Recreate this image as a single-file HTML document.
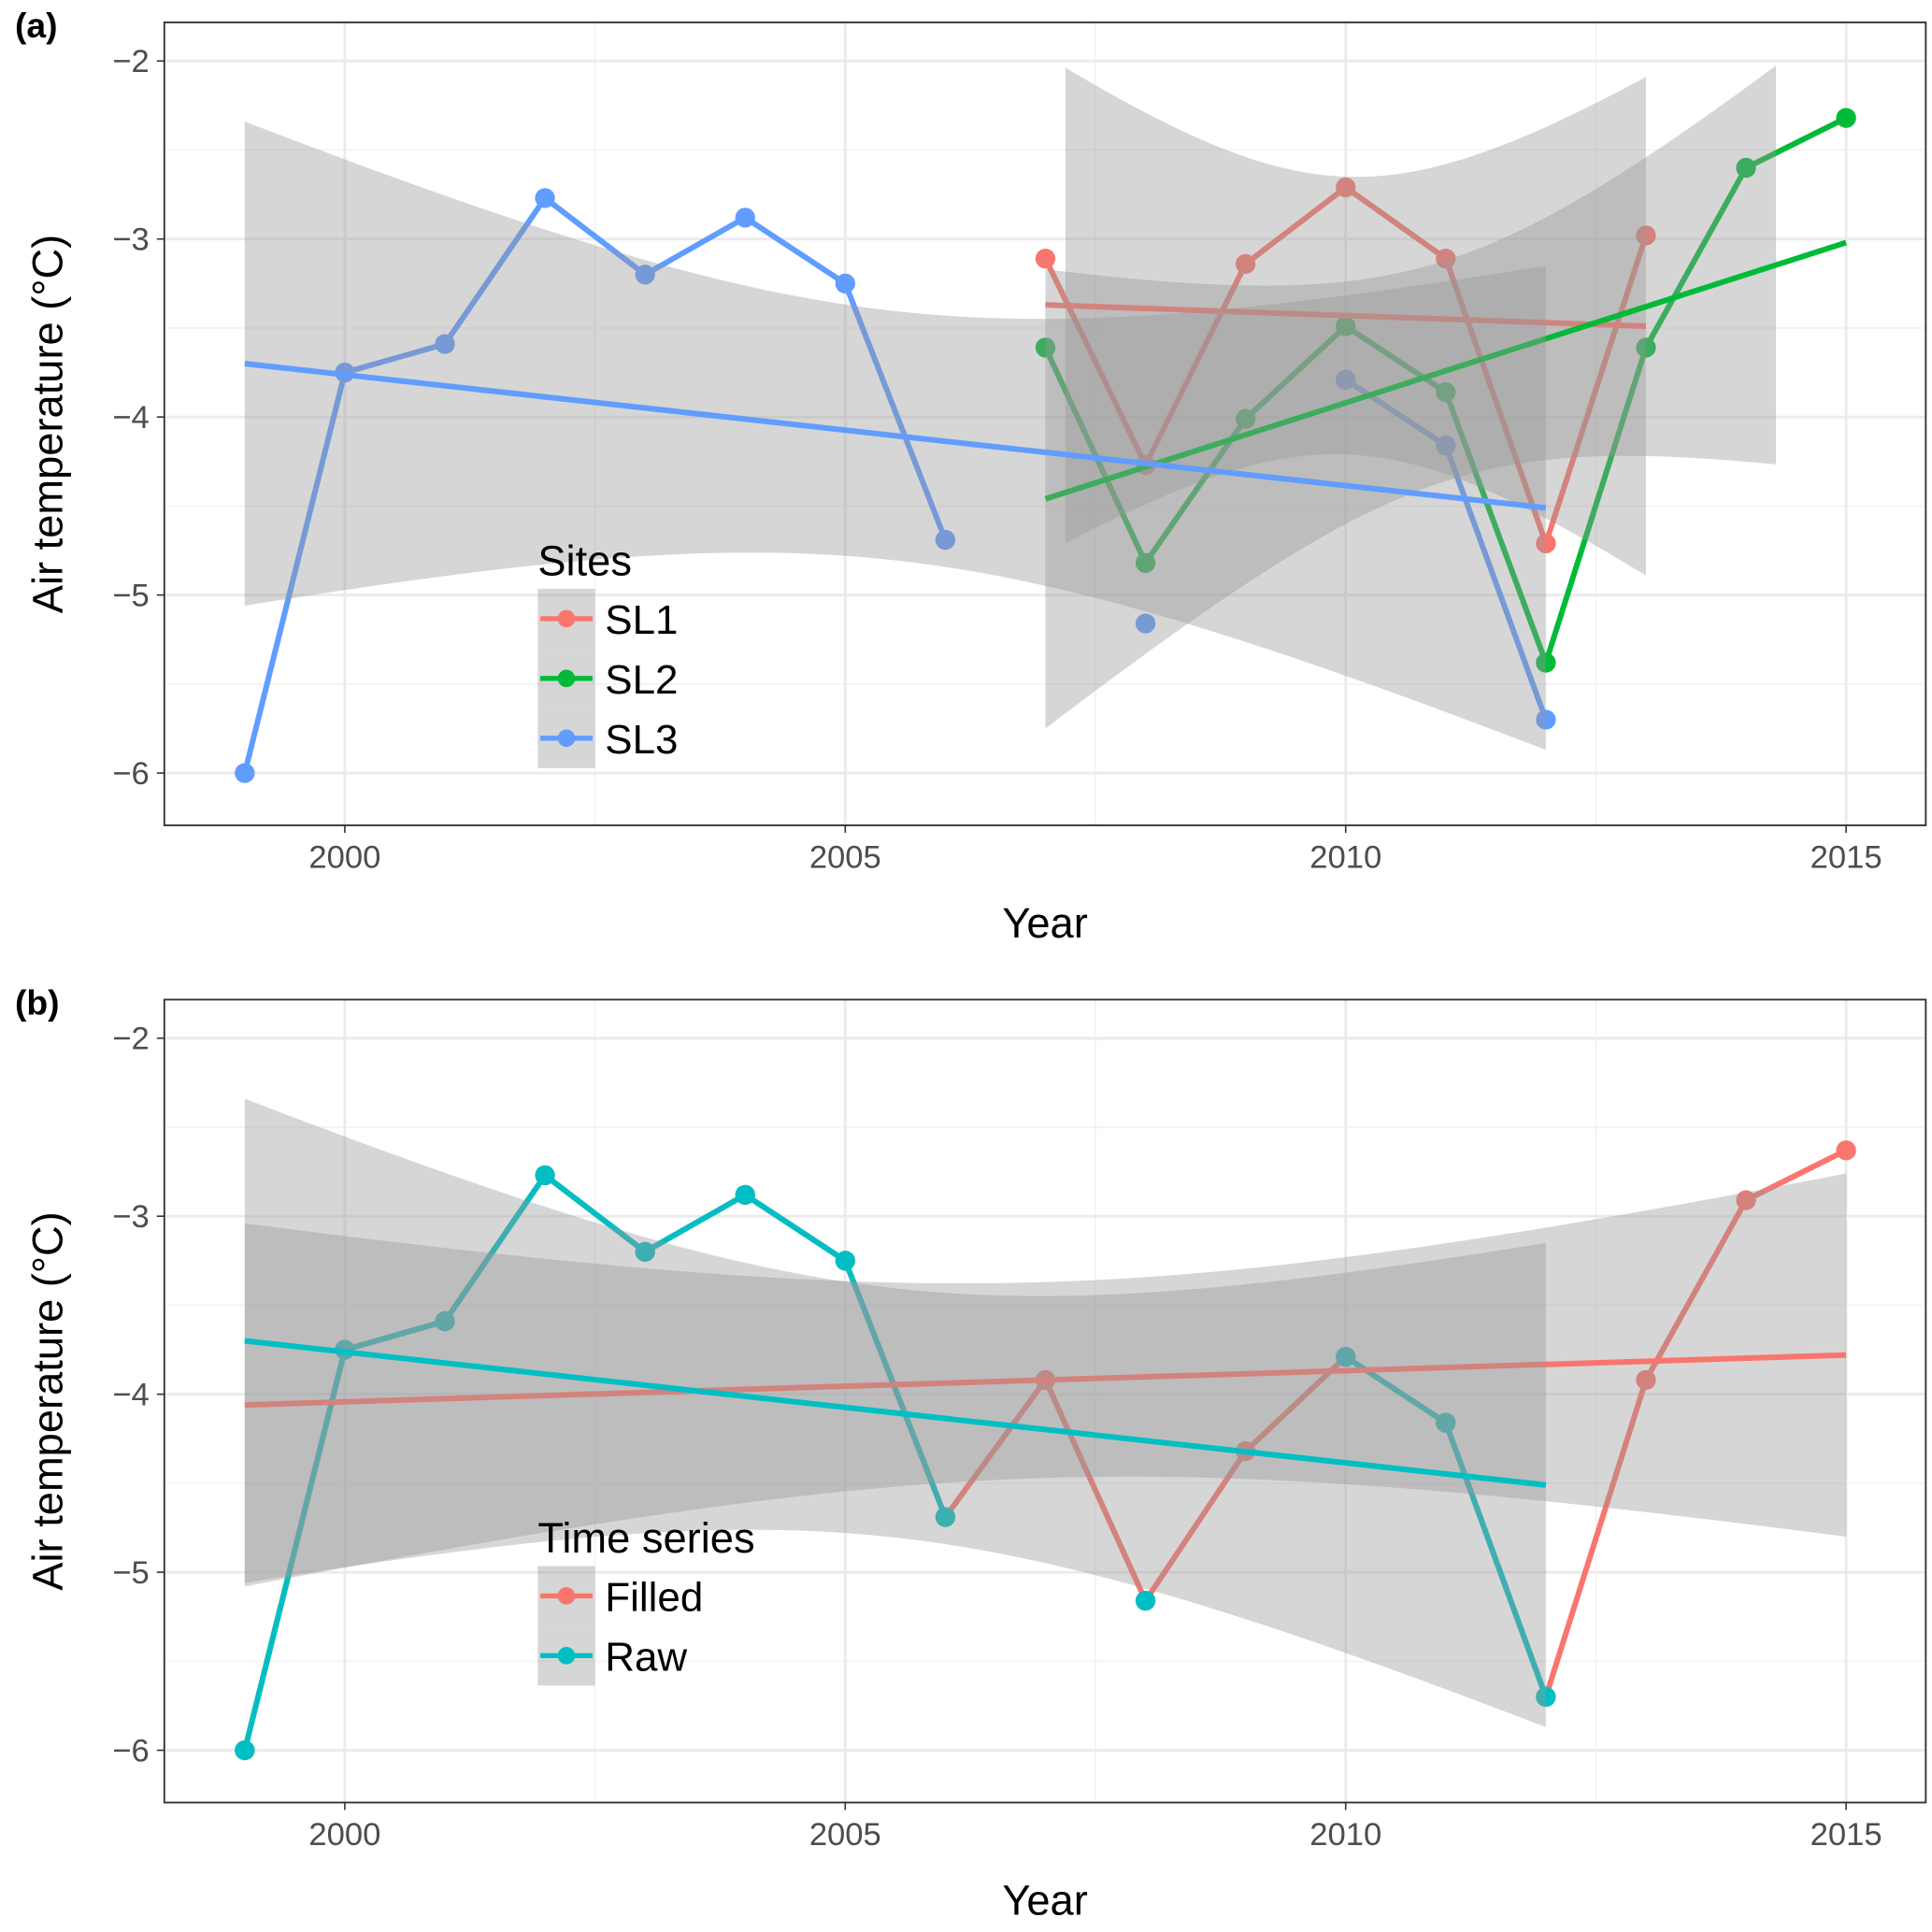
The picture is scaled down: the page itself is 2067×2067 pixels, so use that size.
<!DOCTYPE html>
<html><head><meta charset="utf-8"><style>
body{margin:0;background:#fff}
svg{display:block;font-family:"Liberation Sans",Arial,sans-serif}
</style></head><body>
<svg id="chart" width="2067" height="2067" viewBox="0 0 1552 1552" xmlns="http://www.w3.org/2000/svg"></svg>
<script>
// ---- data ----
const xTicks = [2000, 2005, 2010, 2015];
const yTicks = [-2, -3, -4, -5, -6];
const sl1Years = [2007, 2008, 2009, 2010, 2011, 2012, 2013];
const sl1Vals = [-3.11, -4.27, -3.14, -2.71, -3.11, -4.71, -2.98];
const sl2Years = [2007, 2008, 2009, 2010, 2011, 2012, 2013, 2014, 2015];
const sl2Vals = [-3.61, -4.82, -4.01, -3.49, -3.86, -5.38, -3.61, -2.60, -2.32];
const sl3Years = [1999, 2000, 2001, 2002, 2003, 2004, 2005, 2006, 2007, 2008, 2009, 2010, 2011, 2012];
const sl3Vals = [-6.0, -3.75, -3.59, -2.77, -3.2, -2.88, -3.25, -4.69, null, -5.16, null, -3.79, -4.16, -5.70];
const filledYears = [1999, 2000, 2001, 2002, 2003, 2004, 2005, 2006, 2007, 2008, 2009, 2010, 2011, 2012, 2013, 2014, 2015];
const filledVals = [-6.0, -3.75, -3.59, -2.77, -3.2, -2.88, -3.25, -4.69, -3.92, -5.16, -4.32, -3.79, -4.16, -5.70, -3.92, -2.91, -2.63];
// trend: [x0, y0, x1, y1]; band half-width at centre and at ends
const sl1Trend = [2007, -3.37, 2013, -3.49]; const sl1Band = [0.78, 1.40, 2007.2, 2013];
const sl2Trend = [2007, -4.46, 2015, -3.02]; const sl2Band = [0.62, 1.29, 2007, 2014.3];
const sl3Trend = [1999, -3.70, 2012, -4.51]; const sl3Band = [0.70, 1.36, 1999, 2012];
const filledTrend = [1999, -4.06, 2015, -3.78]; const filledBand = [0.55, 1.02, 1999, 2015];

const NS = "http://www.w3.org/2000/svg";
const svg = document.getElementById('chart');
function el(tag, attrs, parent) {
  const e = document.createElementNS(NS, tag);
  for (const k in attrs) e.setAttribute(k, attrs[k]);
  (parent || svg).appendChild(e); return e;
}
const X0 = 132, X1 = 1547;
function xs(v) { return 277 + (v - 2000) * 80.4; }

function panel(top, label, legendTitle, legendItems, drawSeries, name) {
  const g = el('g', {});
  
  
  const yTop = top, yBot = top + 645;
  const y0 = top + 31; // -2
  const ys = v => y0 + (-2 - v) * 143;
  el('rect', {x: X0, y: yTop, width: X1 - X0, height: yBot - yTop, fill: '#fff'}, g);
  for (let v = -2.5; v >= -6.5; v--) { const y = ys(v); if (y > yTop && y < yBot) el('line', {x1: X0, x2: X1, y1: y, y2: y, stroke: '#f2f2f2', 'stroke-width': 1.2}, g); }
  for (let v = 1997.5; v <= 2017.5; v += 5) { const x = xs(v); if (x > X0 && x < X1) el('line', {x1: x, x2: x, y1: yTop, y2: yBot, stroke: '#f2f2f2', 'stroke-width': 1.2}, g); }
  yTicks.forEach(v => {
    const y = ys(v);
    const gl = el('line', {x1: X0, x2: X1, y1: y, y2: y, stroke: '#ebebeb', 'stroke-width': 2.2}, g);
    
    el('line', {x1: X0 - 6, x2: X0, y1: y, y2: y, stroke: '#333', 'stroke-width': 1.2}, g);
    const t = el('text', {x: X0 - 12, y: y + 9, 'text-anchor': 'end', 'font-size': 26, fill: '#4d4d4d'}, g);
    t.textContent = '\u2212' + Math.abs(v);
    
  });
  xTicks.forEach(v => {
    const x = xs(v);
    el('line', {x1: x, x2: x, y1: yTop, y2: yBot, stroke: '#ebebeb', 'stroke-width': 2.2}, g);
    el('line', {x1: x, x2: x, y1: yBot, y2: yBot + 6, stroke: '#333', 'stroke-width': 1.2}, g);
    const t = el('text', {x: x, y: yBot + 34, 'text-anchor': 'middle', 'font-size': 26, fill: '#4d4d4d'}, g);
    t.textContent = v;
    
  });
  drawSeries(g, ys);
  el('rect', {x: X0, y: yTop, width: X1 - X0, height: yBot - yTop, fill: 'none', stroke: '#333', 'stroke-width': 1.4}, g);
  const xt = el('text', {x: (X0 + X1) / 2, y: yBot + 90, 'text-anchor': 'middle', 'font-size': 34}, g);
  xt.textContent = 'Year';
  
  const yt = el('text', {x: 0, y: 0, 'text-anchor': 'middle', 'font-size': 34, transform: `translate(50,${(yTop + yBot) / 2}) rotate(-90)`}, g);
  yt.textContent = 'Air temperature (°C)';
  
  const pl = el('text', {x: 12, y: top + 12, 'font-size': 28, 'font-weight': 'bold'}, g);
  pl.textContent = label;
  
  const lg = el('g', {}, g);
  
  
  const lt = el('text', {x: 432, y: top + 444, 'font-size': 34}, lg);
  lt.textContent = legendTitle;
  legendItems.forEach((it, i) => {
    const cy = top + 479 + i * 48;
    el('rect', {x: 432, y: cy - 24, width: 46, height: 48, fill: '#999', 'fill-opacity': 0.4}, lg);
    el('line', {x1: 434, x2: 476, y1: cy, y2: cy, stroke: it[1], 'stroke-width': 4}, lg);
    el('circle', {cx: 455, cy: cy, r: 7, fill: it[1]}, lg);
    const t = el('text', {x: 486, y: cy + 12, 'font-size': 33}, lg);
    t.textContent = it[0];
    
  });
}

function drawLine(g, years, vals, color, ys, name) {
  let seg = [];
  const segs = [];
  years.forEach((yr, i) => {
    if (vals[i] === null) { if (seg.length) segs.push(seg); seg = []; }
    else seg.push([xs(yr), ys(vals[i])]);
  });
  if (seg.length) segs.push(seg);
  segs.forEach(s => {
    if (s.length > 1) {
      const p = el('polyline', {points: s.map(q => q.join(',')).join(' '), fill: 'none', stroke: color, 'stroke-width': 4.5, 'stroke-linejoin': 'round'}, g);
      
    }
  });
  years.forEach((yr, i) => {
    if (vals[i] === null) return;
    const c = el('circle', {cx: xs(yr), cy: ys(vals[i]), r: 8, fill: color}, g);
    
  });
}
function drawBand(g, trend, band, ys, name) {
  const [xa, ya, xb, yb] = trend;
  const [hMid, hEnd, bs, be] = band;
  const xm = (xa + xb) / 2, half = (xb - xa) / 2;
  const c = (hEnd * hEnd - hMid * hMid) / (half * half);
  const f = x => ya + (yb - ya) * (x - xa) / (xb - xa);
  const h = x => Math.sqrt(hMid * hMid + c * (x - xm) * (x - xm));
  const up = [], lo = [];
  for (let i = 0; i <= 60; i++) {
    const x = bs + (be - bs) * i / 60;
    up.push([xs(x), ys(f(x) + h(x))]);
    lo.unshift([xs(x), ys(f(x) - h(x))]);
  }
  const p = el('polygon', {points: up.concat(lo).map(q => q.join(',')).join(' '), fill: '#999', 'fill-opacity': 0.4}, g);
  
}
function drawTrend(g, trend, color, ys, name) {
  const [xa, ya, xb, yb] = trend;
  const l = el('line', {x1: xs(xa), y1: ys(ya), x2: xs(xb), y2: ys(yb), stroke: color, 'stroke-width': 4.5}, g);
  
}

const RED = '#F8766D', GREEN = '#00BA38', BLUE = '#619CFF', TEAL = '#00BFC4';
panel(18, '(a)', 'Sites', [['SL1', RED], ['SL2', GREEN], ['SL3', BLUE]], (g, ys) => {
  drawLine(g, sl1Years, sl1Vals, RED, ys, 'sl1');
  drawLine(g, sl2Years, sl2Vals, GREEN, ys, 'sl2');
  drawLine(g, sl3Years, sl3Vals, BLUE, ys, 'sl3');
  drawBand(g, sl1Trend, sl1Band, ys, 'sl1'); drawTrend(g, sl1Trend, RED, ys, 'sl1');
  drawBand(g, sl2Trend, sl2Band, ys, 'sl2'); drawTrend(g, sl2Trend, GREEN, ys, 'sl2');
  drawBand(g, sl3Trend, sl3Band, ys, 'sl3'); drawTrend(g, sl3Trend, BLUE, ys, 'sl3');
}, 'panel-a');
panel(803, '(b)', 'Time series', [['Filled', RED], ['Raw', TEAL]], (g, ys) => {
  drawLine(g, filledYears, filledVals, RED, ys, 'filled');
  drawLine(g, sl3Years, sl3Vals, TEAL, ys, 'raw');
  drawBand(g, filledTrend, filledBand, ys, 'filled'); drawTrend(g, filledTrend, RED, ys, 'filled');
  drawBand(g, sl3Trend, sl3Band, ys, 'raw'); drawTrend(g, sl3Trend, TEAL, ys, 'raw');
}, 'panel-b');
</script>
</body></html>
